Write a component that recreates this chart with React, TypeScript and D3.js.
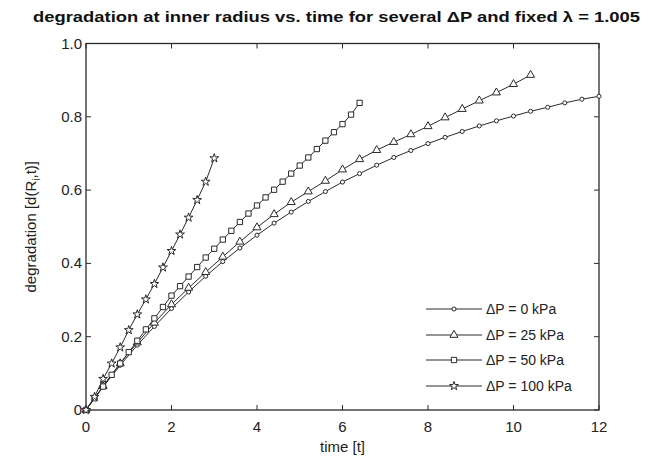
import React from "react";
import * as d3 from "d3";

const W = 649;
const H = 463;

const tCircle = [0,0.4,0.8,1.2,1.6,2.0,2.4,2.8,3.2,3.6,4.0,4.4,4.8,5.2,5.6,6.0,6.4,6.8,7.2,7.6,8.0,8.4,8.8,9.2,9.6,10.0,10.4,10.8,11.2,11.6,12.0];
const dCircle = [0,0.063,0.122,0.177,0.228,0.277,0.322,0.365,0.405,0.442,0.477,0.510,0.540,0.569,0.596,0.622,0.645,0.668,0.689,0.708,0.727,0.744,0.760,0.775,0.789,0.802,0.815,0.826,0.838,0.848,0.856];

const tTri = [0,0.4,0.8,1.2,1.6,2.0,2.4,2.8,3.2,3.6,4.0,4.4,4.8,5.2,5.6,6.0,6.4,6.8,7.2,7.6,8.0,8.4,8.8,9.2,9.6,10.0,10.4];
const dTri = [0,0.065,0.127,0.184,0.238,0.288,0.333,0.376,0.418,0.459,0.498,0.534,0.567,0.596,0.625,0.656,0.684,0.709,0.731,0.752,0.774,0.798,0.821,0.844,0.866,0.889,0.914];

const tSq = [0,0.2,0.4,0.6,0.8,1.0,1.2,1.4,1.6,1.8,2.0,2.2,2.4,2.6,2.8,3.0,3.2,3.4,3.6,3.8,4.0,4.2,4.4,4.6,4.8,5.0,5.2,5.4,5.6,5.8,6.0,6.2,6.4];
const dSq = [0,0.032,0.064,0.096,0.127,0.158,0.189,0.220,0.250,0.281,0.312,0.338,0.364,0.390,0.416,0.440,0.465,0.489,0.513,0.536,0.558,0.580,0.601,0.623,0.645,0.667,0.689,0.712,0.735,0.758,0.780,0.806,0.838];

const tStar = [0,0.2,0.4,0.6,0.8,1.0,1.2,1.4,1.6,1.8,2.0,2.2,2.4,2.6,2.8,3.0];
const dStar = [0,0.036,0.085,0.127,0.171,0.218,0.261,0.302,0.344,0.389,0.434,0.479,0.525,0.573,0.623,0.687];

const xTicks = [0,2,4,6,8,10,12];
const yTicks = [0,0.2,0.4,0.6,0.8,1.0];
const yTickLabels = ["0","0.2","0.4","0.6","0.8","1.0"];
const legendLabels = ["ΔP = 0 kPa","ΔP = 25 kPa","ΔP = 50 kPa","ΔP = 100 kPa"];

const INK = "#2a2a2a";
const FONT = "'Liberation Sans', Arial, sans-serif";

export default function App() {
  const left = 86, right = 599, top = 43.5, bottom = 410;
  const x = d3.scaleLinear().domain([0, 12]).range([left, right]);
  const y = d3.scaleLinear().domain([0, 1]).range([bottom, top]);

  const series = [
    { t: tCircle, d: dCircle, sym: d3.symbolCircle, size: 13 },
    { t: tTri, d: dTri, sym: d3.symbolTriangle, size: 28 },
    { t: tSq, d: dSq, sym: d3.symbolSquare, size: 28 },
    { t: tStar, d: dStar, sym: d3.symbolStar, size: 24 },
  ];

  const line = d3.line<[number, number]>().x(p => x(p[0])).y(p => y(p[1]));

  const legendY = [309, 335, 360, 386];

  return (
    <svg width={W} height={H} style={{ position: "absolute", left: 0, top: 0, background: "#fff" }} fontFamily={FONT}>
      <rect x={0} y={0} width={W} height={H} fill="#fff" />
      <text x={33} y={22} fontSize={15} fontWeight="bold" fill="#111" textLength={607} lengthAdjust="spacingAndGlyphs">
        degradation at inner radius vs. time for several ΔP and fixed λ = 1.005
      </text>

      {/* frame */}
      <rect x={left} y={top} width={right - left} height={bottom - top} fill="none" stroke={INK} strokeWidth={1.3} />

      {/* x ticks */}
      {xTicks.map((v, i) => (
        <g key={"xt" + i}>
          <line x1={x(v)} x2={x(v)} y1={bottom} y2={bottom - 5} stroke={INK} strokeWidth={1} />
          <line x1={x(v)} x2={x(v)} y1={top} y2={top + 5} stroke={INK} strokeWidth={1} />
          <text x={x(v)} y={432} fontSize={15} textAnchor="middle" fill="#222">{v}</text>
        </g>
      ))}
      {/* y ticks */}
      {yTicks.map((v, i) => (
        <g key={"yt" + i}>
          <line x1={left} x2={left + 5} y1={y(v)} y2={y(v)} stroke={INK} strokeWidth={1} />
          <line x1={right} x2={right - 5} y1={y(v)} y2={y(v)} stroke={INK} strokeWidth={1} />
          <text x={82} y={y(v) + 5} fontSize={15} textAnchor="end" fill="#222">{yTickLabels[i]}</text>
        </g>
      ))}

      <text x={(left + right) / 2} y={452} fontSize={15} textAnchor="middle" fill="#222">time [t]</text>
      <text transform={`translate(36, ${(top + bottom) / 2}) rotate(-90)`} fontSize={15} textAnchor="middle" fill="#222">
        degradation [d(R<tspan fontSize={10} dy={4}>i</tspan><tspan dy={-4}>,t)]</tspan>
      </text>

      {/* series */}
      {series.map((s, si) => {
        const pts: [number, number][] = s.t.map((t, i) => [t, s.d[i]]);
        const sym = d3.symbol().type(s.sym).size(s.size)();
        return (
          <g key={"s" + si}>
            <path d={line(pts) || ""} fill="none" stroke={INK} strokeWidth={1} />
            {pts.map((p, i) => (
              <path key={i} d={sym || ""} transform={`translate(${x(p[0])},${y(p[1])})`} fill="#fff" stroke={INK} strokeWidth={1} />
            ))}
          </g>
        );
      })}

      {/* legend */}
      {series.map((s, si) => {
        const sym = d3.symbol().type(s.sym).size(s.size)();
        const ly = legendY[si];
        return (
          <g key={"lg" + si}>
            <line x1={426} x2={482} y1={ly} y2={ly} stroke={INK} strokeWidth={1} />
            <path d={sym || ""} transform={`translate(454,${ly})`} fill="#fff" stroke={INK} strokeWidth={1} />
            <text x={486} y={ly + 5} fontSize={14} fill="#222">{legendLabels[si]}</text>
          </g>
        );
      })}
    </svg>
  );
}
